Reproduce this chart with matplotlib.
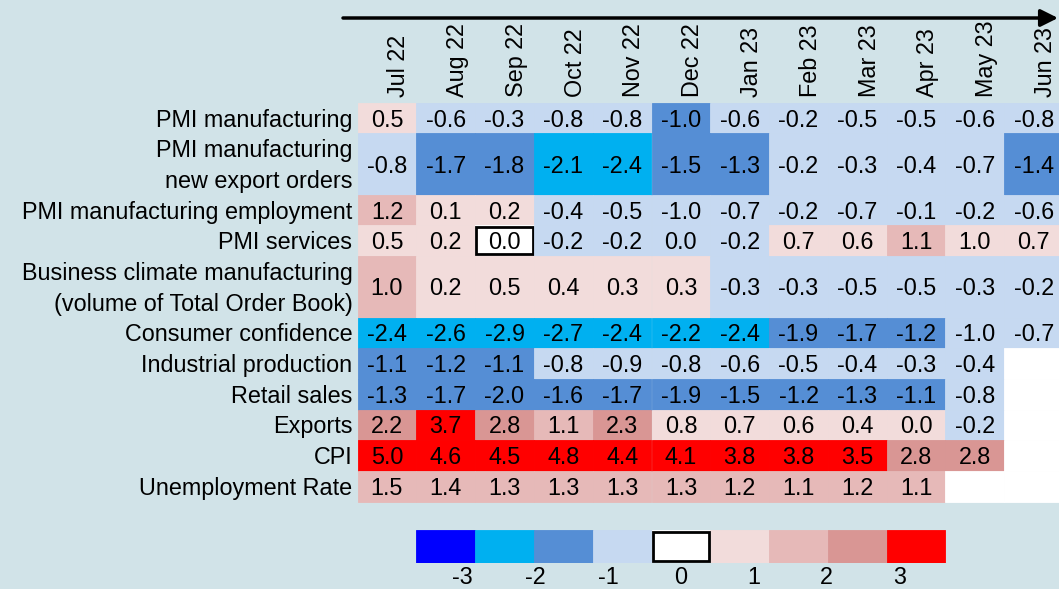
import numpy as np
import matplotlib.pyplot as plt
from matplotlib.patches import Rectangle

plt.rcParams['font.family'] = ['Liberation Sans', 'DejaVu Sans']
plt.rcParams['font.size'] = 16.8

months = ['Jul 22', 'Aug 22', 'Sep 22', 'Oct 22', 'Nov 22', 'Dec 22',
          'Jan 23', 'Feb 23', 'Mar 23', 'Apr 23', 'May 23', 'Jun 23']

indicators = ['PMI manufacturing',
              'PMI manufacturing\nnew export orders',
              'PMI manufacturing employment',
              'PMI services',
              'Business climate manufacturing\n(volume of Total Order Book)',
              'Consumer confidence',
              'Industrial production',
              'Retail sales',
              'Exports',
              'CPI',
              'Unemployment Rate']

nan = np.nan
pmi_manuf = [0.5, -0.6, -0.3, -0.8, -0.8, -1.02, -0.6, -0.2, -0.5, -0.5, -0.6, -0.8]
pmi_export = [-0.8, -1.7, -1.8, -2.1, -2.4, -1.5, -1.3, -0.2, -0.3, -0.4, -0.7, -1.4]
pmi_employ = [1.2, 0.1, 0.2, -0.4, -0.5, -0.98, -0.7, -0.2, -0.7, -0.1, -0.2, -0.6]
pmi_services = [0.5, 0.2, 0.0, -0.2, -0.2, -0.02, -0.2, 0.7, 0.6, 1.1, 0.98, 0.7]
business_climate = [1.0, 0.2, 0.5, 0.4, 0.3, 0.3, -0.3, -0.3, -0.5, -0.5, -0.3, -0.2]
consumer_conf = [-2.4, -2.6, -2.9, -2.7, -2.4, -2.2, -2.4, -1.9, -1.7, -1.2, -0.98, -0.7]
industrial_prod = [-1.1, -1.2, -1.1, -0.8, -0.9, -0.8, -0.6, -0.5, -0.4, -0.3, -0.4, nan]
retail_sales = [-1.3, -1.7, -1.98, -1.6, -1.7, -1.9, -1.5, -1.2, -1.3, -1.1, -0.8, nan]
exports = [2.2, 3.7, 2.8, 1.1, 2.3, 0.8, 0.7, 0.6, 0.4, 0.02, -0.2, nan]
cpi = [5.0, 4.6, 4.5, 4.8, 4.4, 4.1, 3.8, 3.8, 3.5, 2.8, 2.8, nan]
unemployment = [1.5, 1.4, 1.3, 1.3, 1.3, 1.3, 1.2, 1.1, 1.2, 1.1, nan, nan]

rows = [pmi_manuf, pmi_export, pmi_employ, pmi_services, business_climate,
        consumer_conf, industrial_prod, retail_sales, exports, cpi, unemployment]

scale_ticks = [-3, -2, -1, 0, 1, 2, 3]

# two-line labels get double height rows
row_heights = [1, 2, 1, 1, 2, 1, 1, 1, 1, 1, 1]

bg = '#D1E3E8'
palette = ['#0000FF', '#00B0F0', '#558ED5', '#C6D9F1', '#FFFFFF',
           '#F2DCDB', '#E6B9B8', '#D99694', '#FF0000']


def cell_colour(v):
    if np.isnan(v):
        return 'white'
    if v == 0:
        return palette[4]
    if v < 0:
        return palette[3 - min(int(np.floor(-v)), 3)]
    return palette[5 + min(int(np.floor(v)), 3)]


def fmt(v):
    s = f'{v:.1f}'
    return '0.0' if s == '-0.0' else s


W, H = 1059, 589
col_w = 58.8
x0 = 357.5
top, bottom = 102.7, 501.7
unit = (bottom - top) / sum(row_heights)
nudge = 2 / unit  # text sits a touch below the cell centre

fig = plt.figure(figsize=(W / 100, H / 100), dpi=100, facecolor=bg)
ax = fig.add_axes([x0 / W, 1 - bottom / H, 12 * col_w / W, (bottom - top) / H])
ax.set_xlim(0, 12)
ax.set_ylim(sum(row_heights), 0)
ax.axis('off')

y = 0
for label, vals, h in zip(indicators, rows, row_heights):
    for j, v in enumerate(vals):
        c = cell_colour(v)
        ax.add_patch(Rectangle((j, y), 1, h, facecolor=c, edgecolor=c,
                               lw=0.6, clip_on=False))
        if v == 0:
            ax.add_patch(Rectangle((j + 0.02, y + 0.06), 0.96, h - 0.12,
                                   facecolor='none', edgecolor='black',
                                   lw=2, clip_on=False))
        if not np.isnan(v):
            ax.text(j + 0.5, y + h / 2 + nudge, fmt(v), ha='center',
                    va='center', clip_on=False)
    ax.text(-5 / col_w, y + h / 2 + nudge, label, ha='right', va='center',
            linespacing=1.42)
    y += h

for j, m in enumerate(months):
    ax.text(j + 0.7, -5.5 / unit, m, rotation=90, ha='center', va='bottom')

# time arrow above the month labels
ax.annotate('', xy=(1058 / W, 1 - 18 / H), xytext=(343 / W, 1 - 18 / H),
            xycoords='figure fraction', textcoords='figure fraction',
            arrowprops=dict(arrowstyle='-|>', lw=2.5, color='black',
                            mutation_scale=26, shrinkA=0, shrinkB=0))

# colour key
lax = fig.add_axes([x0 / W, 1 - 563 / H, 12 * col_w / W, 33 / H])
lax.set_xlim(0, 12)
lax.set_ylim(0, 1)
lax.axis('off')
for k, c in enumerate(palette):
    lax.add_patch(Rectangle((1 + k, 0), 1, 1, facecolor=c, edgecolor=c,
                            lw=0.6))
lax.add_patch(Rectangle((5.03, 0.05), 0.94, 0.9, facecolor='none',
                        edgecolor='black', lw=2))
for t in scale_ticks:
    lax.text(5.5 + t * 1.24, -0.45, str(t), ha='center', va='center',
             clip_on=False)

fig.savefig('out.png', dpi=100, facecolor=bg)
